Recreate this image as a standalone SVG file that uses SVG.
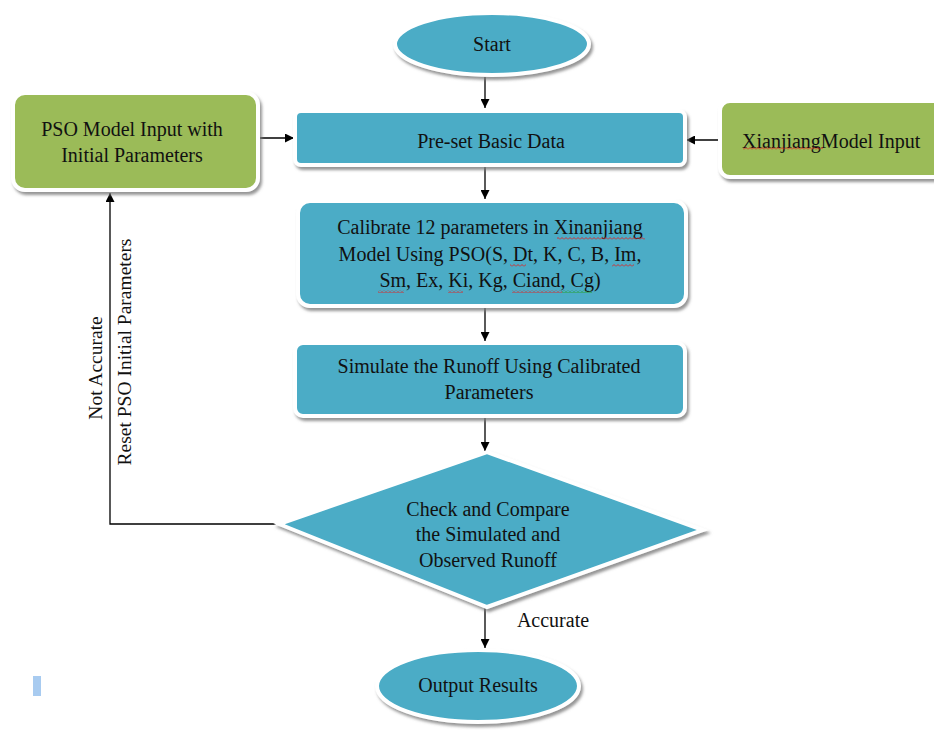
<svg xmlns="http://www.w3.org/2000/svg" width="934" height="734" viewBox="0 0 934 734">
<style>
.t{font-family:"Liberation Serif","Times New Roman",serif;font-size:20px;fill:#111;text-anchor:middle}
.r{font-size:19.5px}
.teal{fill:#4BACC6;stroke:#FFFFFF;stroke-width:4}
.green{fill:#9BBB59;stroke:#FFFFFF;stroke-width:4}
.c{stroke:#000;stroke-width:1.3;fill:none}
.wr{fill:url(#wavyR)}
.wg{fill:url(#wavyG)}
</style>
<defs>
<filter id="sh" x="-10%" y="-10%" width="125%" height="130%">
<feDropShadow dx="2" dy="3" stdDeviation="1.5" flood-color="#7a7a7a" flood-opacity="0.8"/>
</filter>
<marker id="ah" viewBox="0 0 10 10" refX="10" refY="5" markerWidth="9" markerHeight="9" markerUnits="userSpaceOnUse" orient="auto">
<path d="M0,0 L10,5 L0,10 z" fill="#000"/>
</marker>
<pattern id="wavyR" x="0" y="0" width="4" height="3" patternUnits="userSpaceOnUse">
<path d="M0,2.5 L2,0.5 L4,2.5" stroke="#E02020" stroke-width="0.9" fill="none"/>
</pattern>
<pattern id="wavyG" x="0" y="0" width="4" height="3" patternUnits="userSpaceOnUse">
<path d="M0,2.5 L2,0.5 L4,2.5" stroke="#20A020" stroke-width="0.9" fill="none"/>
</pattern>
</defs>
<rect width="934" height="734" fill="#FFFFFF"/>

<g id="connectors">
<line class="c" x1="485" y1="77" x2="485" y2="108" marker-end="url(#ah)"/>
<line class="c" x1="260" y1="138" x2="294" y2="138" marker-end="url(#ah)"/>
<line class="c" x1="719" y1="140" x2="686" y2="140" marker-end="url(#ah)"/>
<line class="c" x1="485" y1="167" x2="485" y2="199" marker-end="url(#ah)"/>
<line class="c" x1="485" y1="308" x2="485" y2="341" marker-end="url(#ah)"/>
<line class="c" x1="485" y1="418" x2="485" y2="451" marker-end="url(#ah)"/>
<polyline class="c" points="279,524 110,524 110,193" marker-end="url(#ah)"/>
<line class="c" x1="485" y1="607" x2="485" y2="648" marker-end="url(#ah)"/>
<text class="t r" transform="translate(102,368) rotate(-90)">Not Accurate</text>
<text class="t r" transform="translate(131,352) rotate(-90)">Reset PSO Initial Parameters</text>
<text class="t" x="553" y="627">Accurate</text>
</g>

<g id="start">
<ellipse class="teal" cx="492" cy="44" rx="97" ry="31" filter="url(#sh)"/>
<text class="t" x="492" y="51">Start</text>
</g>

<g id="pso-input">
<rect class="green" x="13" y="93" width="245" height="97" rx="12" filter="url(#sh)"/>
<text class="t" x="132" y="136">PSO Model Input with</text>
<text class="t" x="132" y="162">Initial Parameters</text>
</g>

<g id="xianjiang-input">
<rect class="green" x="720" y="101" width="240" height="76" rx="10" filter="url(#sh)"/>
<text class="t" x="742" y="148" style="text-anchor:start">XianjiangModel Input</text>
<rect class="wr" x="743" y="147" width="80" height="3"/>
</g>

<g id="preset">
<rect class="teal" x="295" y="111" width="390" height="54" rx="6" filter="url(#sh)"/>
<text class="t" x="491" y="148">Pre-set Basic Data</text>
</g>

<g id="calibrate">
<rect class="teal" x="298" y="201" width="388" height="105" rx="12" filter="url(#sh)"/>
<text class="t" x="490" y="234">Calibrate 12 parameters in Xinanjiang</text>
<text class="t" x="490" y="261">Model Using PSO(S,  Dt, K,  C, B, Im,</text>
<text class="t" x="490" y="287">Sm, Ex, Ki,  Kg,  Ciand, Cg)</text>
<rect class="wr" x="557" y="237" width="88" height="3"/>
<rect class="wr" x="510" y="264" width="16" height="3"/>
<rect class="wr" x="612" y="264" width="22" height="3"/>
<rect class="wr" x="378" y="290" width="26" height="3"/>
<rect class="wr" x="448" y="290" width="15" height="3"/>
<rect class="wr" x="512" y="290" width="50" height="3"/>
<rect class="wg" x="562" y="290" width="30" height="3"/>
</g>

<g id="simulate">
<rect class="teal" x="295" y="343" width="390" height="73" rx="8" filter="url(#sh)"/>
<text class="t" x="489" y="373">Simulate the Runoff Using Calibrated</text>
<text class="t" x="489" y="399">Parameters</text>
</g>

<g id="check">
<polygon class="teal" points="487,452 703,530 487,607 279,524" filter="url(#sh)"/>
<text class="t" x="488" y="516">Check and Compare</text>
<text class="t" x="488" y="541">the Simulated and</text>
<text class="t" x="488" y="567">Observed Runoff</text>
</g>

<g id="output">
<ellipse class="teal" cx="478" cy="686" rx="101" ry="36" filter="url(#sh)"/>
<text class="t" x="478" y="692">Output Results</text>
</g>

<rect x="33" y="676" width="8" height="20" fill="#A8CBF0"/>
</svg>
